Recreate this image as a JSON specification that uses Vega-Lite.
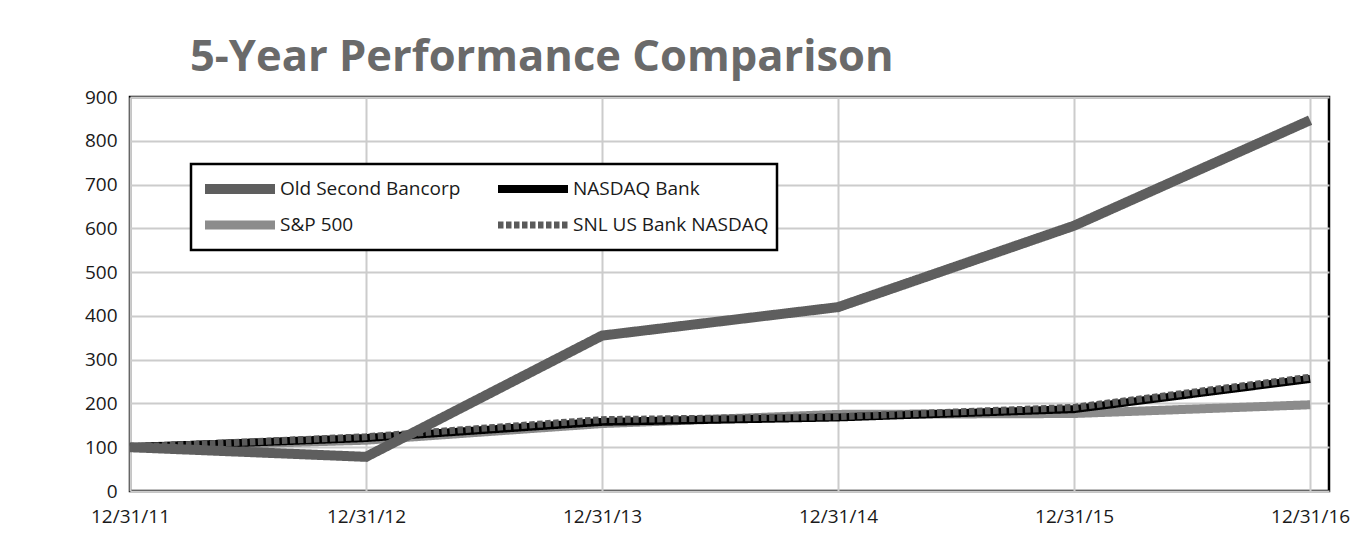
{
  "$schema": "https://vega.github.io/schema/vega-lite/v6.json",
  "width": 1199,
  "height": 394,
  "autosize": {"type": "none"},
  "padding": {"left": 130, "top": 97, "right": 43, "bottom": 50},
  "background": "white",
  "title": {
    "text": "5-Year Performance Comparison",
    "anchor": "start",
    "frame": "group",
    "dx": 60,
    "dy": 53,
    "offset": 27,
    "baseline": "alphabetic",
    "font": "Open Sans",
    "fontSize": 43.5,
    "fontWeight": "bold",
    "color": "#6a6a6a"
  },
  "data": {
    "values": [
      {"series": "S&P 500", "year": 2011, "value": 100},
      {"series": "S&P 500", "year": 2012, "value": 116},
      {"series": "S&P 500", "year": 2013, "value": 154},
      {"series": "S&P 500", "year": 2014, "value": 175},
      {"series": "S&P 500", "year": 2015, "value": 177},
      {"series": "S&P 500", "year": 2016, "value": 197},
      {"series": "NASDAQ Bank", "year": 2011, "value": 100},
      {"series": "NASDAQ Bank", "year": 2012, "value": 121},
      {"series": "NASDAQ Bank", "year": 2013, "value": 158},
      {"series": "NASDAQ Bank", "year": 2014, "value": 168},
      {"series": "NASDAQ Bank", "year": 2015, "value": 187},
      {"series": "NASDAQ Bank", "year": 2016, "value": 256},
      {"series": "SNL US Bank NASDAQ", "year": 2011, "value": 100},
      {"series": "SNL US Bank NASDAQ", "year": 2012, "value": 124},
      {"series": "SNL US Bank NASDAQ", "year": 2013, "value": 163},
      {"series": "SNL US Bank NASDAQ", "year": 2014, "value": 170},
      {"series": "SNL US Bank NASDAQ", "year": 2015, "value": 191},
      {"series": "SNL US Bank NASDAQ", "year": 2016, "value": 260},
      {"series": "Old Second Bancorp", "year": 2011, "value": 100},
      {"series": "Old Second Bancorp", "year": 2012, "value": 78},
      {"series": "Old Second Bancorp", "year": 2013, "value": 355},
      {"series": "Old Second Bancorp", "year": 2014, "value": 420},
      {"series": "Old Second Bancorp", "year": 2015, "value": 606},
      {"series": "Old Second Bancorp", "year": 2016, "value": 847}
    ]
  },
  "mark": {"type": "line", "strokeCap": "butt", "strokeJoin": "miter"},
  "encoding": {
    "x": {
      "field": "year",
      "type": "quantitative",
      "scale": {"domain": [2011, 2016.08], "nice": false, "zero": false},
      "axis": {
        "values": [2011, 2012, 2013, 2014, 2015, 2016],
        "labelExpr": "'12/31/' + (datum.value - 2000)",
        "labelFlush": false,
        "title": null
      }
    },
    "y": {
      "field": "value",
      "type": "quantitative",
      "scale": {"domain": [0, 900], "nice": false},
      "axis": {
        "values": [0, 100, 200, 300, 400, 500, 600, 700, 800, 900],
        "labelFlush": false,
        "title": null
      }
    },
    "color": {
      "field": "series",
      "type": "nominal",
      "scale": {
        "domain": ["Old Second Bancorp", "S&P 500", "NASDAQ Bank", "SNL US Bank NASDAQ"],
        "range": ["#5e5e5e", "#8c8c8c", "#000000", "#5a5a5a"]
      },
      "legend": {"title": null}
    },
    "strokeWidth": {
      "field": "series",
      "type": "nominal",
      "scale": {
        "domain": ["Old Second Bancorp", "S&P 500", "NASDAQ Bank", "SNL US Bank NASDAQ"],
        "range": [10, 7, 7, 7]
      },
      "legend": {"title": null}
    },
    "strokeDash": {
      "field": "series",
      "type": "nominal",
      "scale": {
        "domain": ["Old Second Bancorp", "S&P 500", "NASDAQ Bank", "SNL US Bank NASDAQ"],
        "range": [[1, 0], [1, 0], [1, 0], [5.5, 2.5]]
      },
      "legend": {"title": null}
    }
  },
  "config": {
    "view": {"stroke": "#000000", "strokeWidth": 2.5},
    "axis": {
      "domain": false,
      "ticks": false,
      "grid": true,
      "gridColor": "#cccccc",
      "gridWidth": 2,
      "labelFont": "Open Sans",
      "labelFontSize": 19,
      "labelColor": "#1a1a1a"
    },
    "axisX": {"labelPadding": 16},
    "axisY": {"labelPadding": 13},
    "legend": {
      "orient": "none",
      "legendX": 61,
      "legendY": 67,
      "columns": 2,
      "gridAlign": "each",
      "columnPadding": 31,
      "rowPadding": 2,
      "clipHeight": 34,
      "padding": 8,
      "symbolOffset": 1,
      "symbolType": "stroke",
      "symbolSize": 4900,
      "labelOffset": 0,
      "labelFont": "Open Sans",
      "labelFontSize": 19,
      "labelFontWeight": "normal",
      "labelColor": "#1a1a1a",
      "labelLimit": 400,
      "strokeColor": "#000000",
      "strokeWidth": 2.5,
      "fillColor": "white"
    }
  }
}
